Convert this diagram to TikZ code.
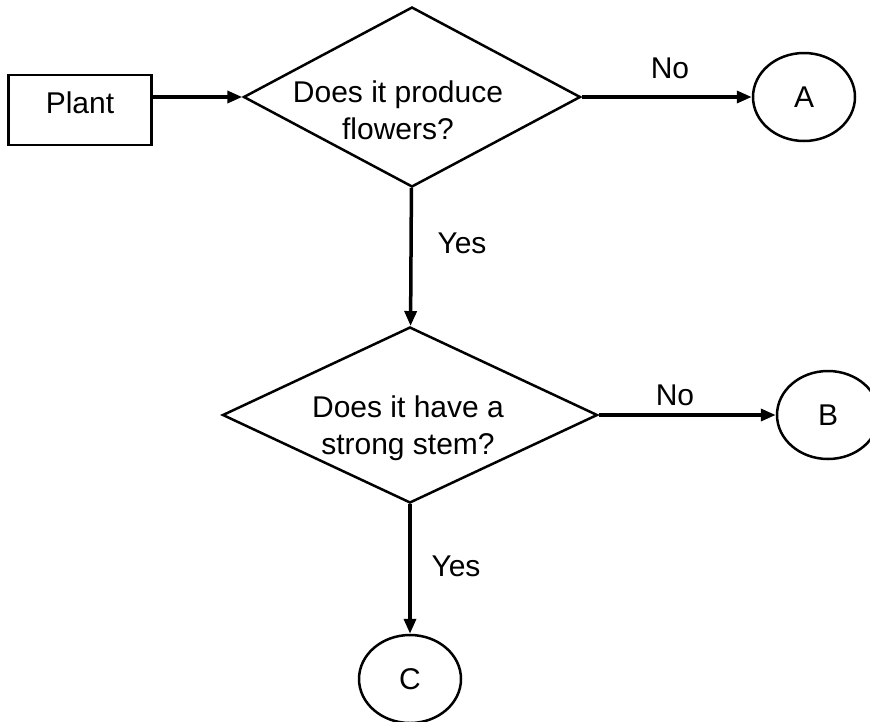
\documentclass[tikz,border=0pt]{standalone}
\usepackage{fontspec}
\setmainfont{Liberation Sans}
\usetikzlibrary{shapes.geometric,arrows.meta}
\tikzset{
  decision/.style={draw, diamond, line width=2.5pt, inner sep=0pt},
  endpoint/.style={draw, ellipse, line width=2.5pt, inner sep=0pt, minimum width=102pt, minimum height=88pt},
  flow/.style={->, line width=3.5pt},
}
\begin{document}
\begin{tikzpicture}[x=1pt, y=-1pt, >={Triangle[length=15pt,width=12pt]}, font=\fontsize{30}{37}\selectfont]
\useasboundingbox (0,0) rectangle (870,721);

% Start
\node[draw, rectangle, line width=2.5pt, minimum width=143pt, minimum height=70pt, text depth=14pt] (plant) at (80,110) {Plant};

% First question
\node[decision, minimum width=337pt, minimum height=180pt] (q1) at (412,97) {};
\node[align=center] (q1text) at (398,110) {Does it produce\\flowers?};
\node[endpoint] (a) at (804,97) {A};

% Second question
\node[decision, minimum width=375pt, minimum height=176pt] (q2) at (410,415) {};
\node[align=center] (q2text) at (408,428) {Does it have a\\strong stem?};
\node[endpoint] (b) at (828,415) {B};
\node[endpoint] (c) at (410,679) {C};

% Arrows
\draw[flow] (plant.east |- q1.west) -- (q1.west);
\draw[flow] (q1) -- (a);
\draw[flow] (q1) -- (q2);
\draw[flow] (q2) -- (b);
\draw[flow] (q2) -- (c);

% Labels
\node (no1) at (670,68) {No};
\node (yes1) at (462,243) {Yes};
\node (no2) at (675,395) {No};
\node (yes2) at (456,566) {Yes};
\end{tikzpicture}
\end{document}
